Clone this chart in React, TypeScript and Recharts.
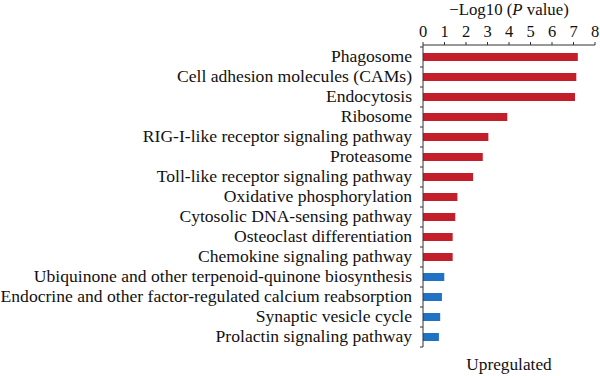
import { BarChart, Bar, Cell, XAxis, YAxis, Label } from 'recharts'

// KEGG pathways, top to bottom
const pathways = [
  'Phagosome',
  'Cell adhesion molecules (CAMs)',
  'Endocytosis',
  'Ribosome',
  'RIG-I-like receptor signaling pathway',
  'Proteasome',
  'Toll-like receptor signaling pathway',
  'Oxidative phosphorylation',
  'Cytosolic DNA-sensing pathway',
  'Osteoclast differentiation',
  'Chemokine signaling pathway',
  'Ubiquinone and other terpenoid-quinone biosynthesis',
  'Endocrine and other factor-regulated calcium reabsorption',
  'Synaptic vesicle cycle',
  'Prolactin signaling pathway',
]

// -log10(P value)
const logP = [7.2, 7.13, 7.07, 3.92, 3.04, 2.78, 2.33, 1.6, 1.5, 1.38, 1.38, 0.99, 0.88, 0.8, 0.74]

// which group each bar belongs to
const groups = ['up', 'up', 'up', 'up', 'up', 'up', 'up', 'up', 'up', 'up', 'up', 'down', 'down', 'down', 'down']

const xTicks = [0, 1, 2, 3, 4, 5, 6, 7, 8]

const COLORS: Record<string, string> = {
  up: '#c41e2a',
  down: '#1f72c4',
}

const FONT = '"Liberation Serif", "DejaVu Serif", serif'
const AXIS = '#333'
const AXIS_X = 423 // y axis width -> plot starts here

const data = pathways.map((name, i) => ({ name, value: logP[i], group: groups[i] }))

const BAND = 20

// category label plus a tick mark at the band boundaries
const PathwayTick = (props: any) => {
  const { y, payload, index } = props
  return (
    <g>
      <text
        x={AXIS_X - 11}
        y={y}
        dy={5}
        textAnchor="end"
        fontFamily={FONT}
        fontSize={17.6}
        fill="#111"
      >
        {payload.value}
      </text>
      <line x1={AXIS_X - 3} x2={AXIS_X} y1={y + BAND / 2} y2={y + BAND / 2} stroke={AXIS} />
      {index === 0 && (
        <line x1={AXIS_X - 3} x2={AXIS_X} y1={y - BAND / 2} y2={y - BAND / 2} stroke={AXIS} />
      )}
    </g>
  )
}

const TitleLabel = (props: any) => {
  const { viewBox } = props
  const cx = viewBox.x + viewBox.width / 2
  return (
    <text x={cx} y={15} textAnchor="middle" fontFamily={FONT} fontSize={16.8} fill="#111">
      <tspan>−Log10 (</tspan>
      <tspan fontStyle="italic">P</tspan>
      <tspan> value)</tspan>
    </text>
  )
}

export default function App() {
  return (
    <div style={{ position: 'absolute', left: 0, top: 0, width: 600, height: 376, background: '#fff' }}>
      <BarChart
        width={600}
        height={376}
        data={data}
        layout="vertical"
        margin={{ top: 5, right: 5, bottom: 29, left: 0 }}
        barCategoryGap={0}
      >
        <XAxis
          type="number"
          orientation="top"
          domain={[0, 8]}
          ticks={xTicks}
          interval={0}
          height={40}
          tickSize={3}
          tickMargin={5}
          stroke={AXIS}
          tick={{ fontFamily: FONT, fontSize: 16.5, fill: '#111' }}
        >
          <Label content={<TitleLabel />} />
        </XAxis>
        <YAxis
          type="category"
          dataKey="name"
          width={AXIS_X}
          interval={0}
          padding={{ top: 2, bottom: 0 }}
          tickLine={false}
          stroke={AXIS}
          tick={<PathwayTick />}
        />
        <Bar dataKey="value" barSize={8} isAnimationActive={false}>
          {data.map((d, i) => (
            <Cell key={`cell-${i}`} fill={COLORS[d.group]} />
          ))}
        </Bar>
      </BarChart>
      <svg width={600} height={376} style={{ position: 'absolute', left: 0, top: 0, pointerEvents: 'none' }}>
        <text x={509} y={370} textAnchor="middle" fontFamily={FONT} fontSize={17.3} fill="#111">
          Upregulated
        </text>
      </svg>
    </div>
  )
}
